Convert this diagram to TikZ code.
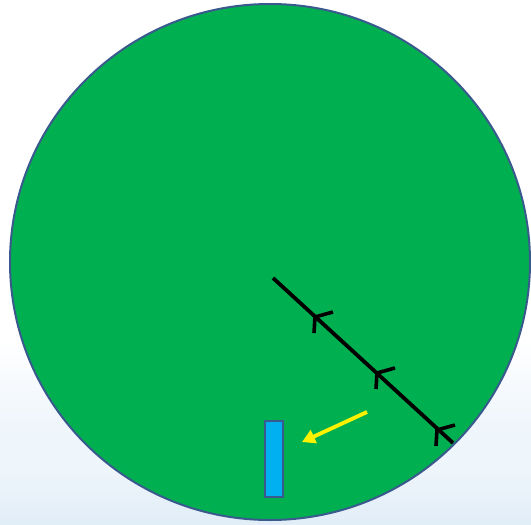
\documentclass[tikz,border=0pt]{standalone}
\usetikzlibrary{arrows.meta,calc}
\definecolor{discgreen}{HTML}{00B050}
\definecolor{edgeblue}{HTML}{3A5A8E}
\definecolor{barcyan}{HTML}{00B0F0}
\definecolor{skyA}{HTML}{EEF5FB}
\definecolor{skyB}{HTML}{E1EDF7}
\tikzset{
  disc/.style={fill=discgreen, draw=edgeblue, line width=2pt},
  wire/.style={draw=black, line width=3.8pt},
  barb/.style={draw=black, line width=3.6pt},
  pointer/.style={draw=yellow, line width=3.8pt, -{Triangle[length=13pt,width=14pt]}},
  bar/.style={fill=barcyan, draw=edgeblue, line width=2pt}
}
\begin{document}
\begin{tikzpicture}[x=1pt,y=-1pt]
\useasboundingbox (0,0) rectangle (531,525);
% pale sky background at the bottom
\shade[top color=white, bottom color=skyA] (0,340) rectangle (531,430);
\fill[skyA] (0,430) rectangle (531,525);
\shade[top color=skyA, bottom color=skyB] (0,470) rectangle (531,525);
% disc
\path[disc] (270,262) ellipse [x radius=260, y radius=258];
% black line with open arrow marks
\coordinate (wa) at (273,278);
\coordinate (wb) at (453,443);
\draw[wire] (wa) -- (wb);
\foreach \tx/\ty in {315/317, 377/373, 437/430}{
  \coordinate (t) at (\tx,\ty);
  \draw[barb] ($(t)+(18,-5)$) -- (t) -- ($(t)+(-1,16)$);
}
% yellow pointer
\coordinate (ya) at (367,412);
\coordinate (yb) at (302,442);
\draw[pointer] (ya) -- (yb);
% cyan bar
\path[bar] (265,421) rectangle (283,497);
\end{tikzpicture}
\end{document}
